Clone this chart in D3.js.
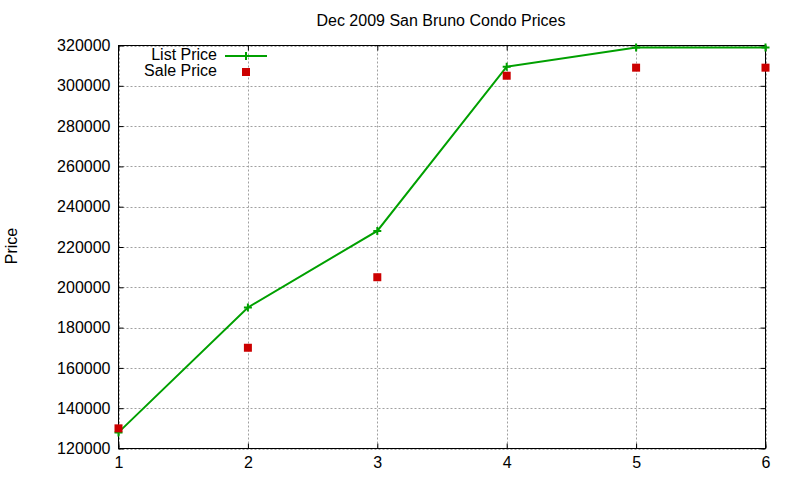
<!DOCTYPE html>
<html><head><meta charset="utf-8">
<script src="https://cdn.jsdelivr.net/npm/d3@7"></script>
<style>body{margin:0;background:#fff}svg{display:block}text{font-family:"Liberation Sans",Arial,sans-serif;fill:#000}</style>
</head><body><svg id="c" width="800" height="480"></svg>
<script>
const categories = [1, 2, 3, 4, 5, 6];
const listPrice = [128000, 190000, 228000, 309500, 319000, 319000];
const salePrice = [130000, 170000, 205000, 305000, 309000, 309000];
const yTicks = [120000, 140000, 160000, 180000, 200000, 220000, 240000, 260000, 280000, 300000, 320000];
const title = "Dec 2009 San Bruno Condo Prices";
const yLabel = "Price";
const seriesNames = ["List Price", "Sale Price"];

const svg = d3.select("#c");
const L = 118.5, R = 765.5, T = 45.5, B = 448.5;
const x = d3.scaleLinear().domain([1, 6]).range([L, R]);
const y = d3.scaleLinear().domain([120000, 320000]).range([B, T]);
const green = "#00a000", red = "#cc0000";

// grid
const grid = svg.append("g").attr("stroke", "#a0a0a0").attr("stroke-width", 1).attr("stroke-dasharray", "2,2");
grid.selectAll("line.h").data(yTicks).join("line").attr("class", "h")
  .attr("x1", L).attr("x2", R).attr("y1", d => Math.round(y(d)) + 0.5).attr("y2", d => Math.round(y(d)) + 0.5);
grid.selectAll("line.v").data(categories).join("line").attr("class", "v")
  .attr("y1", T).attr("y2", B).attr("x1", d => Math.round(x(d)) + 0.5).attr("x2", d => Math.round(x(d)) + 0.5);

// axes with inward ticks
const yAxisL = d3.axisLeft(y).tickValues(yTicks).tickSize(-5).tickPadding(8).tickFormat(d3.format("d"));
const yAxisR = d3.axisRight(y).tickValues(yTicks).tickSize(-5).tickFormat("");
const xAxisB = d3.axisBottom(x).tickValues(categories).tickSize(-5).tickPadding(8).tickFormat(d3.format("d"));
const xAxisT = d3.axisTop(x).tickValues(categories).tickSize(-5).tickFormat("");
function style(g){ g.select(".domain").remove(); g.selectAll("line").attr("stroke","#000"); g.selectAll("text").attr("font-size",16).attr("font-family","Liberation Sans, Arial, sans-serif").attr("fill","#000"); }
svg.append("g").attr("transform", `translate(${L},0)`).call(yAxisL).call(style);
svg.append("g").attr("transform", `translate(${R},0)`).call(yAxisR).call(style);
svg.append("g").attr("transform", `translate(0,${B})`).call(xAxisB).call(style);
svg.append("g").attr("transform", `translate(0,${T})`).call(xAxisT).call(style);
svg.append("rect").attr("x", L).attr("y", T).attr("width", R - L).attr("height", B - T)
  .attr("fill", "none").attr("stroke", "#000").attr("stroke-width", 1);

// list line
const pts = categories.map((c, i) => [c, listPrice[i]]);
svg.append("path").datum(pts).attr("fill", "none").attr("stroke", green).attr("stroke-width", 2)
  .attr("d", d3.line().x(d => x(d[0])).y(d => y(d[1])));
const plus = svg.append("g").attr("stroke", green).attr("stroke-width", 2);
plus.selectAll("path").data(pts).join("path")
  .attr("d", d => { const px = x(d[0]), py = y(d[1]); return `M${px-4},${py}H${px+4}M${px},${py-4}V${py+4}`; });

// sale squares
svg.append("g").selectAll("rect").data(categories.map((c, i) => [c, salePrice[i]])).join("rect")
  .attr("x", d => x(d[0]) - 4).attr("y", d => y(d[1]) - 4).attr("width", 8).attr("height", 8).attr("fill", red);

// title and label
svg.append("text").attr("x", 441).attr("y", 26).attr("text-anchor", "middle").attr("font-size", 16).text(title);
svg.append("text").attr("transform", "translate(17,246) rotate(-90)").attr("text-anchor", "middle").attr("font-size", 16).text(yLabel);

// legend
svg.append("text").attr("x", 217).attr("y", 60).attr("text-anchor", "end").attr("font-size", 16).text(seriesNames[0]);
svg.append("text").attr("x", 217).attr("y", 75.5).attr("text-anchor", "end").attr("font-size", 16).text(seriesNames[1]);
svg.append("line").attr("x1", 225).attr("x2", 267).attr("y1", 56).attr("y2", 56).attr("stroke", green).attr("stroke-width", 2);
svg.append("path").attr("d", "M242,56H250M246,52V60").attr("stroke", green).attr("stroke-width", 2);
svg.append("rect").attr("x", 242).attr("y", 68).attr("width", 8).attr("height", 8).attr("fill", red);
</script></body></html>
